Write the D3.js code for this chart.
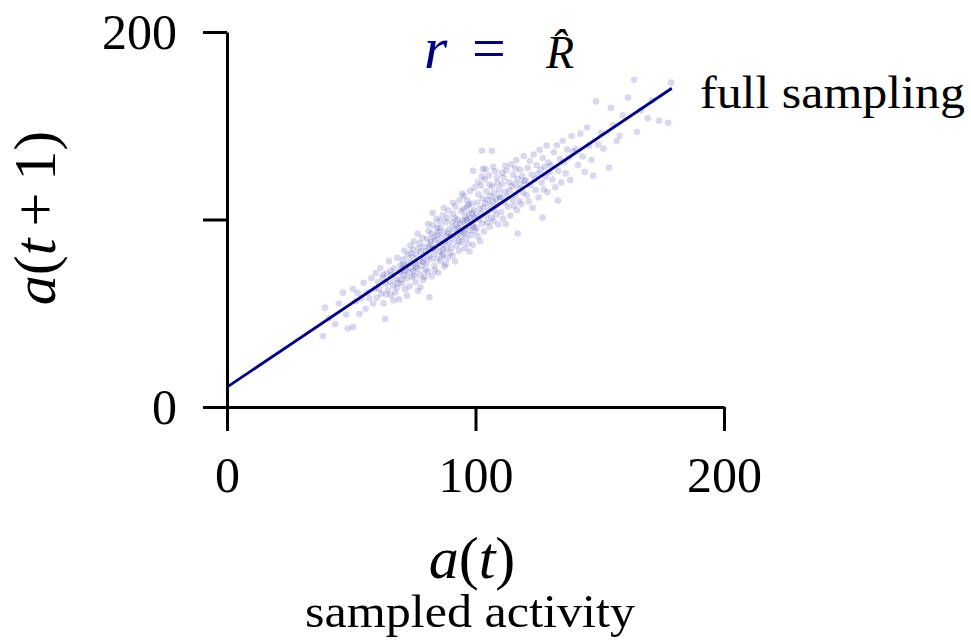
<!DOCTYPE html>
<html>
<head>
<meta charset="utf-8">
<script src="https://cdn.jsdelivr.net/npm/d3@7"></script>
<style>
  body { margin: 0; background: #fff; }
  svg { display: block; }
  .axis path, .axis line { stroke: #000; stroke-width: 3; }
  .axis text { font-family: "Liberation Serif", serif; font-size: 50px; fill: #000; }
</style>
</head>
<body>
<script>
// scatter of sampled activity a(t) vs a(t+1)
const samples = [
  [38.6,37.8],[39.4,53.0],[41.2,47.5],[43.5,44.1],[45.0,55.2],[46.7,61.0],[47.9,49.3],[48.6,41.9],
  [50.7,42.6],[50.7,63.0],[51.8,56.4],[52.6,60.8],[53.3,49.7],[54.1,57.9],[55.0,66.3],[55.8,52.4],
  [56.6,61.2],[57.3,58.0],[58.1,68.7],[58.8,55.1],[59.4,62.9],[59.9,71.4],
  [60.3,58.2],[60.8,66.5],[61.2,63.0],[61.7,74.1],[62.1,60.4],[62.6,68.9],[63.0,55.3],[63.6,47.0],
  [63.9,65.7],[64.3,71.2],[64.8,62.4],[65.2,77.8],[65.6,67.0],[66.0,59.6],[66.4,70.3],[66.9,64.8],
  [67.3,73.9],[67.7,61.1],[68.1,68.2],[68.5,79.5],[68.8,66.1],[69.2,57.4],[69.5,71.8],[69.8,75.6],
  [62.9,70.5],[64.0,60.1],[65.9,72.6],[67.0,56.8],[68.4,63.7],[69.9,68.0],
  [70.2,73.4],[70.5,65.9],[70.8,78.7],[71.1,70.2],[71.4,83.5],[71.7,62.8],[72.0,75.1],[72.3,68.6],
  [72.6,80.9],[72.9,71.9],[73.2,77.2],[73.5,64.4],[73.8,86.1],[74.1,74.0],[74.4,69.3],[74.7,79.8],
  [75.0,72.5],[75.3,88.4],[75.6,76.6],[75.9,66.7],[76.2,81.3],[76.5,73.8],[76.8,61.9],[77.1,84.7],
  [77.4,78.0],[77.7,70.6],[78.0,82.9],[78.3,75.4],[78.6,90.2],[78.9,67.8],[79.2,79.1],[79.5,85.6],
  [79.8,73.2],[70.9,76.0],[72.4,59.3],[73.9,82.0],[75.4,70.1],[76.7,92.4],[77.9,64.0],[79.0,77.5],
  [71.6,72.7],[74.8,84.0],[76.0,75.0],[77.6,87.3],[79.6,69.4],
  [80.1,83.1],[80.3,76.4],[80.6,89.7],[80.8,72.3],[81.1,94.0],[81.3,80.2],[81.5,58.5],[81.8,86.6],
  [82.0,78.9],[82.3,92.5],[82.5,69.8],[82.8,84.4],[83.0,97.1],[83.3,81.7],[83.5,75.3],[83.8,89.0],
  [84.0,85.2],[84.3,100.4],[84.5,79.0],[84.8,91.8],[85.0,71.6],[85.3,87.5],[85.5,83.0],[85.8,95.9],
  [86.0,77.7],[86.3,90.3],[86.5,86.8],[86.8,102.2],[87.0,81.4],[87.3,93.6],[87.5,74.9],[87.8,88.1],
  [88.0,98.7],[88.3,84.6],[88.5,91.2],[88.8,79.5],[89.0,104.8],[89.3,87.9],[89.5,95.0],[89.8,82.3],
  [80.9,97.6],[81.9,88.3],[82.7,103.5],[83.6,72.9],[84.6,95.3],[85.6,99.2],[86.4,80.6],[87.2,106.1],
  [88.1,76.2],[89.1,92.6],[81.4,85.0],[83.2,90.6],[85.1,93.4],[86.9,84.1],[88.7,100.9],
  [90.1,91.5],[90.3,85.0],[90.6,98.3],[90.8,80.7],[91.1,103.2],[91.3,89.4],[91.5,94.8],[91.8,77.6],
  [92.0,107.0],[92.3,92.1],[92.5,86.3],[92.8,100.0],[93.0,95.6],[93.3,83.2],[93.5,110.3],[93.8,97.7],
  [94.0,90.9],[94.3,104.4],[94.5,88.0],[94.8,99.1],[95.0,93.5],[95.3,112.6],[95.5,84.7],[95.8,101.8],
  [96.0,96.4],[96.3,90.2],[96.5,106.7],[96.8,99.5],[97.0,87.1],[97.3,103.0],[97.5,94.3],[97.8,115.2],
  [98.0,100.6],[98.3,91.7],[98.5,108.4],[98.8,97.0],[99.0,86.5],[99.3,104.9],[99.5,101.1],[99.8,93.9],
  [90.9,108.9],[92.1,97.3],[93.4,88.6],[94.6,113.8],[95.6,92.7],[96.7,110.1],[97.6,82.9],[98.6,103.7],
  [99.6,117.0],[91.6,100.7],[93.9,94.2],[95.1,105.6],[96.2,99.9],[97.2,107.8],[99.1,96.0],
  [100.2,102.3],[100.4,95.6],[100.7,109.1],[100.9,91.0],[101.2,113.5],[101.4,100.1],[101.7,105.7],
  [101.9,88.4],[102.2,118.0],[102.4,103.3],[102.7,97.8],[102.9,111.2],[103.2,106.5],[103.4,93.7],
  [103.7,121.3],[103.9,108.6],[104.2,101.9],[104.4,115.0],[104.7,98.5],[104.9,110.4],[105.2,104.6],
  [105.4,123.5],[105.7,96.2],[105.9,112.7],[106.2,107.3],[106.4,101.0],[106.7,117.6],[106.9,109.8],
  [107.2,99.3],[107.4,114.1],[107.7,105.2],[107.9,125.7],[108.2,111.0],[108.4,102.6],[108.7,119.4],
  [108.9,107.9],[109.2,97.4],[109.5,115.8],[109.8,112.1],[101.0,119.9],[102.6,123.0],[104.1,126.8],
  [105.6,118.7],[107.1,128.2],[108.6,122.3],[102.6,136.7],[106.6,136.7],[99.0,126.0],[103.0,127.0],
  [110.1,111.6],[110.4,104.0],[110.7,118.9],[111.0,100.5],[111.3,122.4],[111.6,109.2],[111.9,114.7],
  [112.2,97.6],[112.5,126.1],[112.8,112.3],[113.1,106.8],[113.4,120.0],[113.7,115.5],[114.0,102.1],
  [114.3,129.4],[114.6,117.7],[114.9,110.6],[115.2,123.8],[115.5,107.4],[115.8,119.1],[116.1,113.2],
  [116.4,131.6],[116.7,104.9],[117.0,121.7],[117.3,116.2],[117.6,110.0],[117.9,126.6],[118.2,118.8],
  [118.5,108.1],[118.8,123.1],[119.1,114.4],[119.4,133.9],[119.7,120.5],[112.0,128.7],[116.0,127.3],
  [110.7,125.0],[117.0,92.5],
  [120.2,120.8],[120.6,112.9],[121.0,127.5],[121.4,109.6],[121.8,131.2],[122.2,118.4],[122.6,124.0],
  [123.0,106.3],[123.4,134.7],[123.8,121.5],[124.2,115.9],[124.6,129.0],[125.0,124.3],[125.4,111.8],
  [125.8,137.2],[126.2,126.5],[126.6,119.6],[127.0,132.8],[127.4,116.0],[127.8,128.1],[128.2,122.7],
  [128.6,139.5],[129.0,114.6],[129.4,130.4],[129.8,125.2],[127.0,101.0],
  [130.3,128.8],[130.9,121.3],[131.5,135.9],[132.1,117.2],[132.7,139.6],[133.3,126.0],[133.9,132.4],
  [134.5,119.8],[135.1,142.0],[135.7,130.7],[136.3,124.6],[136.9,137.3],[137.5,133.1],[138.1,121.0],
  [138.7,144.5],[139.3,136.2],[133.2,110.1],
  [140.4,137.5],[141.3,129.0],[142.2,145.8],[143.1,133.6],[144.0,125.4],[144.9,149.1],[145.8,139.3],
  [146.7,131.7],[147.3,123.4],[148.5,163.0],[149.3,140.0],
  [150.6,146.2],[151.5,137.8],[153.7,127.7],[154.5,159.6],[155.4,150.3],[156.8,141.9],[158.0,144.7],
  [159.2,155.6],
  [161.4,165.0],[163.8,174.5],[165.0,146.8],[166.5,158.2],[169.4,154.0],[171.0,163.4],[173.8,152.7],
  [177.5,151.6],[178.7,173.0]
];

// fitted line r = R̂ (end points)
const fitX = [0, 179];
const fitY = [10.6, 170];

const xTicks = [0, 100, 200];
const yTicks = [0, 100, 200];
const yTickLabels = ['0', '', '200'];

const width = 971,
  height = 642;

const x = d3.scaleLinear().domain([0, 200]).range([227, 724]);
const y = d3.scaleLinear().domain([0, 200]).range([407, 32]);

const svg = d3
  .select('body')
  .append('svg')
  .attr('width', width)
  .attr('height', height);

// points
svg
  .append('g')
  .selectAll('circle')
  .data(samples)
  .enter()
  .append('circle')
  .attr('cx', (d) => x(d[0]))
  .attr('cy', (d) => y(d[1]))
  .attr('r', 3.3)
  .style('fill', '#2626a0')
  .style('fill-opacity', 0.18);

// regression line
svg
  .append('path')
  .datum(d3.zip(fitX, fitY))
  .attr('d', d3.line().x((d) => x(d[0])).y((d) => y(d[1])))
  .style('fill', 'none')
  .style('stroke', '#000080')
  .style('stroke-width', 2.8);

// axes
svg
  .append('g')
  .attr('class', 'axis')
  .attr('transform', 'translate(0,' + y(0) + ')')
  .call(d3.axisBottom(x).tickValues(xTicks).tickSize(24).tickSizeOuter(0).tickPadding(25));

svg
  .append('g')
  .attr('class', 'axis')
  .attr('transform', 'translate(' + x(0) + ',0)')
  .call(
    d3
      .axisLeft(y)
      .tickValues(yTicks)
      .tickSize(24)
      .tickSizeOuter(0)
      .tickPadding(26)
      .tickFormat((d, i) => yTickLabels[i])
  );

svg.selectAll('.axis').attr('font-family', null).attr('font-size', null);

// axis labels
const xlab = svg
  .append('text')
  .attr('x', 472)
  .attr('y', 578)
  .attr('text-anchor', 'middle')
  .style('font-family', '"Liberation Serif", serif')
  .style('font-size', '60px');
xlab.append('tspan').style('font-style', 'italic').text('a');
xlab.append('tspan').text('(');
xlab.append('tspan').style('font-style', 'italic').text('t');
xlab.append('tspan').text(')');

const ylab = svg
  .append('text')
  .attr('transform', 'translate(55,218) rotate(-90)')
  .attr('text-anchor', 'middle')
  .style('font-family', '"Liberation Serif", serif')
  .style('font-size', '60px');
ylab.append('tspan').style('font-style', 'italic').text('a');
ylab.append('tspan').text('(');
ylab.append('tspan').style('font-style', 'italic').text('t');
ylab.append('tspan').attr('dx', 12).text('+');
ylab.append('tspan').attr('dx', 12).text('1)');

svg
  .append('text')
  .attr('x', 470)
  .attr('y', 627)
  .attr('text-anchor', 'middle')
  .attr('textLength', 330)
  .attr('lengthAdjust', 'spacingAndGlyphs')
  .style('font-family', '"Liberation Serif", serif')
  .style('font-size', '46px')
  .text('sampled activity');

svg
  .append('text')
  .attr('x', 700)
  .attr('y', 108)
  .attr('textLength', 265)
  .attr('lengthAdjust', 'spacingAndGlyphs')
  .style('font-family', '"Liberation Serif", serif')
  .style('font-size', '46px')
  .text('full sampling');

// r = R-hat annotation
const ann = svg
  .append('text')
  .attr('y', 68)
  .style('font-family', '"Liberation Serif", serif')
  .style('font-size', '60px');
ann.append('tspan').attr('x', 424).style('font-style', 'italic').style('fill', '#000080').text('r');
ann.append('tspan').attr('x', 472).style('fill', '#000080').text('=');
ann
  .append('tspan')
  .attr('x', 546)
  .style('font-style', 'italic')
  .style('font-size', '46px')
  .style('fill', '#000')
  .text('R\u0302');
</script>
</body>
</html>
